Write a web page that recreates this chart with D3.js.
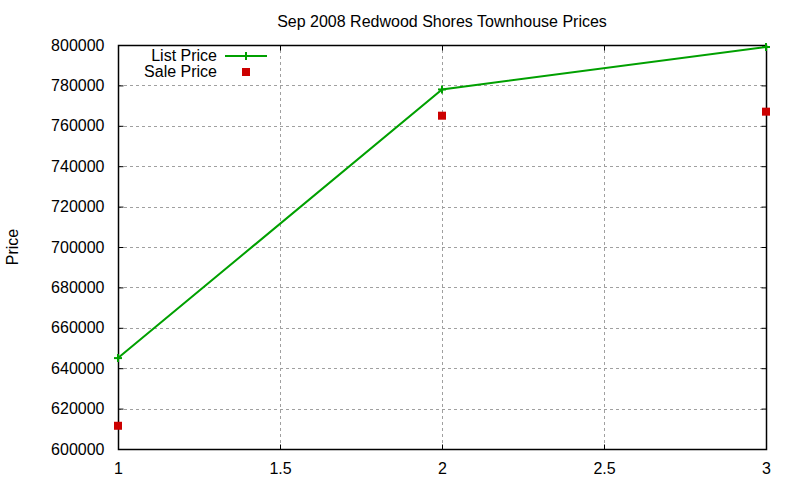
<!DOCTYPE html>
<html>
<head>
<meta charset="utf-8">
<script src="https://cdn.jsdelivr.net/npm/d3@7"></script>
<style>
  body { margin: 0; background: #fff; }
  svg { display: block; font-family: "Liberation Sans", Arial, sans-serif; }
</style>
</head>
<body>
<div id="chart"></div>
<script>
// values
const xValues = [1, 2, 3];
const listPrice = [645000, 778000, 799000];
const salePrice = [611500, 765000, 767000];
const xTicks = [1, 1.5, 2, 2.5, 3];
const yTicks = [600000, 620000, 640000, 660000, 680000, 700000, 720000, 740000, 760000, 780000, 800000];

const width = 800, height = 480;
const margin = {top: 45, right: 34, bottom: 31, left: 118};
const fontSize = '16px';

const svg = d3.select('#chart').append('svg')
    .attr('width', width)
    .attr('height', height);

const x = d3.scaleLinear().domain([1, 3]).range([margin.left, width - margin.right]);
const y = d3.scaleLinear().domain([600000, 800000]).range([height - margin.bottom, margin.top]);

const x0 = x.range()[0], x1 = x.range()[1];
const y0 = y.range()[0], y1 = y.range()[1];

// grid (skip the ones sitting on the border)
const grid = svg.append('g').attr('stroke', '#a0a0a0').attr('stroke-width', 1)
    .attr('stroke-dasharray', '3,3');
grid.selectAll('.gy').data(yTicks.filter(d => d > 600000 && d < 800000)).enter()
    .append('line')
    .attr('x1', x0).attr('x2', x1)
    .attr('y1', d => Math.round(y(d)) + 0.5).attr('y2', d => Math.round(y(d)) + 0.5);
grid.selectAll('.gx').data(xTicks.filter(d => d > 1 && d < 3)).enter()
    .append('line')
    .attr('y1', y0).attr('y2', y1)
    .attr('x1', d => Math.round(x(d)) + 0.5).attr('x2', d => Math.round(x(d)) + 0.5);

// axes: ticks point inward, mirrored on the opposite side
const tickLen = 5;
const axLeft = svg.append('g').attr('transform', `translate(${x0 + 0.5},0)`)
    .call(d3.axisLeft(y).tickValues(yTicks).tickSize(-tickLen).tickPadding(tickLen + 9).tickFormat(d3.format('d')));
const axRight = svg.append('g').attr('transform', `translate(${x1 + 0.5},0)`)
    .call(d3.axisRight(y).tickValues(yTicks).tickSize(-tickLen).tickFormat(''));
const axBottom = svg.append('g').attr('transform', `translate(0,${y0 + 0.5})`)
    .call(d3.axisBottom(x).tickValues(xTicks).tickSize(-tickLen).tickPadding(tickLen + 8).tickFormat(d3.format('')));
const axTop = svg.append('g').attr('transform', `translate(0,${y1 + 0.5})`)
    .call(d3.axisTop(x).tickValues(xTicks).tickSize(-tickLen).tickFormat(''));

[axLeft, axRight, axBottom, axTop].forEach(g => {
    g.select('.domain').remove();
    g.selectAll('line').attr('stroke', '#000').attr('stroke-width', 1);
    g.selectAll('text').attr('fill', '#000').style('font-size', fontSize)
        .style('font-family', '"Liberation Sans", Arial, sans-serif');
});

svg.append('rect')
    .attr('x', x0 + 0.5).attr('y', y1 + 0.5)
    .attr('width', x1 - x0).attr('height', y0 - y1)
    .attr('fill', 'none').attr('stroke', '#000').attr('stroke-width', 1.5);

// title + y label
svg.append('text').attr('x', 442).attr('y', 27).attr('text-anchor', 'middle')
    .style('font-size', fontSize).text('Sep 2008 Redwood Shores Townhouse Prices');
svg.append('text').attr('transform', 'translate(18,247) rotate(-90)').attr('text-anchor', 'middle')
    .style('font-size', fontSize).text('Price');

const green = '#00a000', red = '#cc0000';
const listData = xValues.map((d, i) => [d, listPrice[i]]);
const saleData = xValues.map((d, i) => [d, salePrice[i]]);

svg.append('path')
    .datum(listData)
    .attr('fill', 'none').attr('stroke', green).attr('stroke-width', 2)
    .attr('d', d3.line().x(d => x(d[0])).y(d => y(d[1])));

const cross = (g, cx, cy) => {
    g.append('line').attr('x1', cx - 4).attr('x2', cx + 4).attr('y1', cy).attr('y2', cy);
    g.append('line').attr('x1', cx).attr('x2', cx).attr('y1', cy - 4).attr('y2', cy + 4);
};
const crosses = svg.append('g').attr('stroke', green).attr('stroke-width', 2);
listData.forEach(d => cross(crosses, x(d[0]), y(d[1])));

svg.append('g').selectAll('rect').data(saleData).enter().append('rect')
    .attr('x', d => x(d[0]) - 4).attr('y', d => y(d[1]) - 4)
    .attr('width', 8).attr('height', 8).attr('fill', red);

// legend
const legend = svg.append('g').style('font-size', fontSize);
legend.append('text').attr('x', 217).attr('y', 61).attr('text-anchor', 'end').text('List Price');
legend.append('text').attr('x', 217).attr('y', 77).attr('text-anchor', 'end').text('Sale Price');
legend.append('line').attr('x1', 225).attr('x2', 267).attr('y1', 56).attr('y2', 56)
    .attr('stroke', green).attr('stroke-width', 2);
cross(legend.append('g').attr('stroke', green).attr('stroke-width', 2), 246, 56);
legend.append('rect').attr('x', 242).attr('y', 68).attr('width', 8).attr('height', 8).attr('fill', red);
</script>
</body>
</html>
